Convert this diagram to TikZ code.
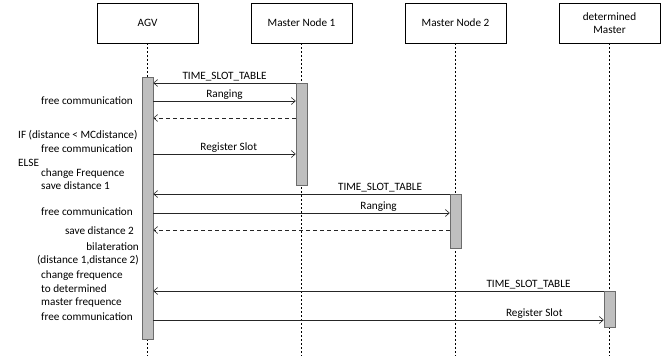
\documentclass[tikz,border=0pt]{standalone}
\usepackage{fontspec}
\setmainfont{Carlito}
\usetikzlibrary{arrows.meta}
\begin{document}
\begin{tikzpicture}[x=1pt,y=-1pt,
  font=\fontsize{11.2}{13.5}\selectfont,
  actor/.style={draw=black,line width=0.6pt,minimum width=101pt,minimum height=40pt,inner sep=1pt,align=center,fill=white},
  life/.style={draw=black,line width=0.6pt,dash pattern=on 2pt off 2pt},
  actbar/.style={draw=gray!85!black,fill=gray!50,line width=0.5pt,minimum width=11pt,inner sep=0pt},
  msg/.style={draw=black!85,line width=0.6pt,-{Straight Barb[length=4pt,width=7pt]}},
  ret/.style={msg,dashed,dash pattern=on 4pt off 3pt},
  lbl/.style={inner sep=1.5pt,anchor=south},
  note/.style={inner sep=0pt,align=left}]
\useasboundingbox (0,0) rectangle (667,356);
% actors
\node[actor] (agv) at (147.5,23) {AGV};
\node[actor] (mn1) at (301.5,23) {Master Node 1};
\node[actor] (mn2) at (455.5,23) {Master Node 2};
\node[actor] (dm)  at (609.5,23) {determined\\Master};
% lifelines
\coordinate (agvend) at (147.5,356);
\coordinate (mn1end) at (301.5,356);
\coordinate (mn2end) at (455.5,356);
\coordinate (dmend)  at (609.5,356);
\draw[life] (agv.south) -- (agvend);
\draw[life] (mn1.south) -- (mn1end);
\draw[life] (mn2.south) -- (mn2end);
\draw[life] (dm.south) -- (dmend);
% activation bars
\node[actbar,minimum height=262pt] (b0) at (147.5,208) {};
\node[actbar,minimum height=102pt] (b1) at (301.5,134) {};
\node[actbar,minimum height=54pt]  (b2) at (455.5,221) {};
\node[actbar,minimum height=36pt]  (b3) at (609.5,309) {};
% messages
\draw[msg] (b1.west |- 0,83) -- (b0.east |- 0,83) node[lbl,pos=0.5] {TIME\_SLOT\_TABLE};
\draw[msg] (b0.east |- 0,101) -- (b1.west |- 0,101) node[lbl,pos=0.5] {Ranging};
\draw[ret] (b1.west |- 0,118) -- (b0.east |- 0,118);
\draw[msg] (b0.east |- 0,154) -- (b1.west |- 0,154) node[lbl,pos=0.53] {Register Slot};
\draw[msg] (b2.west |- 0,194) -- (b0.east |- 0,194) node[lbl,pos=0.235] {TIME\_SLOT\_TABLE};
\draw[msg] (b0.east |- 0,213) -- (b2.west |- 0,213) node[lbl,pos=0.76] {Ranging};
\draw[ret] (b2.west |- 0,230) -- (b0.east |- 0,230);
\draw[msg] (b3.west |- 0,291) -- (b0.east |- 0,291) node[lbl,pos=0.167] {TIME\_SLOT\_TABLE};
\draw[msg] (b0.east |- 0,320) -- (b3.west |- 0,320) node[lbl,pos=0.846] {Register Slot};
% notes
\node[note,anchor=east] (n1) at (133,101) {free communication};
\node[note,anchor=west] (n2) at (18,135) {IF (distance {<} MCdistance)};
\node[note,anchor=east] (n3) at (133,149) {free communication};
\node[note,anchor=west] (n4) at (18,163) {ELSE};
\node[note,anchor=west] (n5) at (41,174) {change Frequence};
\node[note,anchor=west] (n6) at (41,186) {save distance 1};
\node[note,anchor=west] (n7) at (41,212) {free communication};
\node[note,anchor=east] (n8) at (134,231) {save distance 2};
\node[note,anchor=east,align=right] (n9) at (139,254) {bilateration\\(distance 1,distance 2)};
\node[note,anchor=west,align=left] (n10) at (41,289.5) {change frequence\\to determined\\master frequence};
\node[note,anchor=west] (n11) at (41,317) {free communication};
\end{tikzpicture}
\end{document}
